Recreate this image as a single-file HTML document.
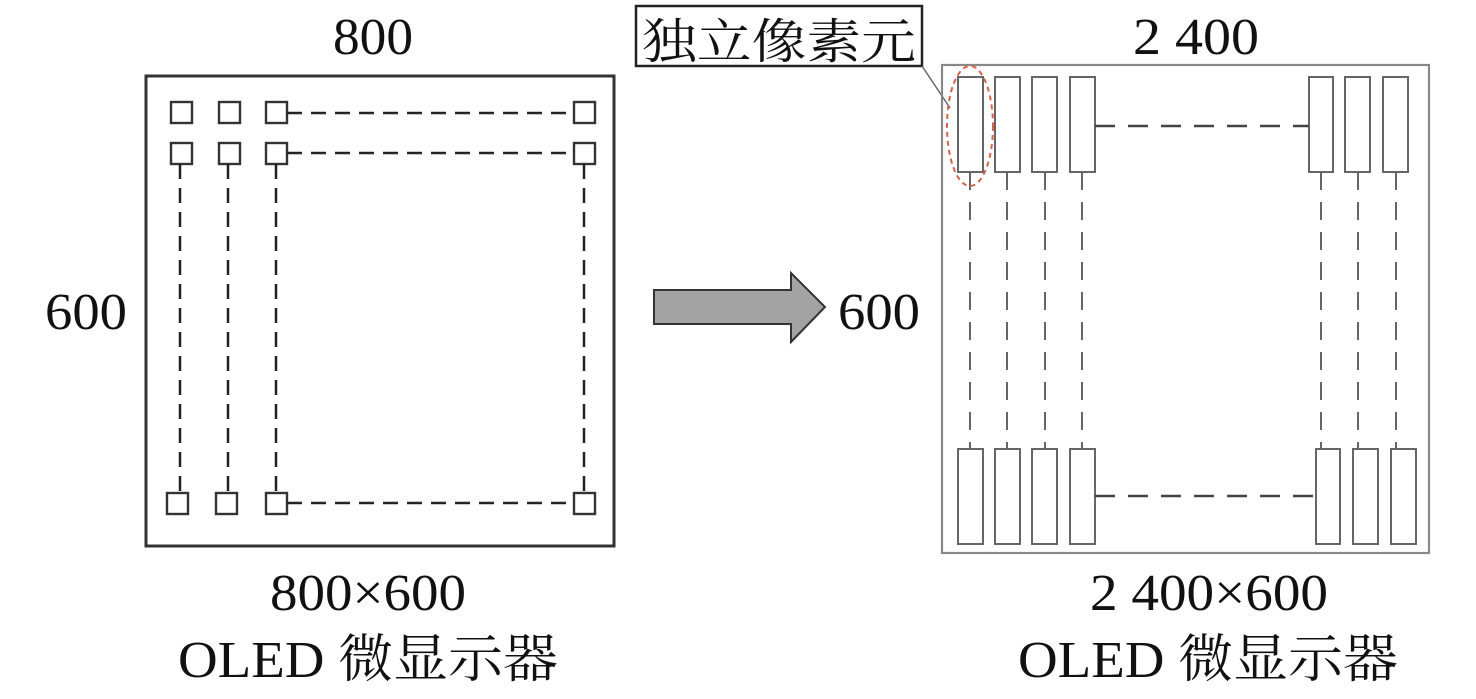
<!DOCTYPE html>
<html><head><meta charset="utf-8"><style>
html,body{margin:0;padding:0;background:#fff;}
svg{display:block;}
text{font-family:"Liberation Serif","Noto Serif CJK SC",serif;fill:#111;}
</style></head><body>
<svg width="1476" height="699" viewBox="0 0 1476 699" xmlns="http://www.w3.org/2000/svg">
<!-- Left panel -->
<text x="333" y="54" font-size="52" textLength="80" lengthAdjust="spacingAndGlyphs">800</text>
<text x="45" y="329" font-size="52" textLength="82" lengthAdjust="spacingAndGlyphs">600</text>
<rect x="146" y="76" width="468" height="470" fill="none" stroke="#333" stroke-width="3"/>
<g fill="none" stroke="#333" stroke-width="2.4">
<rect x="171" y="102" width="21" height="21"/><rect x="219" y="102" width="21" height="21"/><rect x="266" y="102" width="21" height="21"/><rect x="574" y="102" width="21" height="21"/>
<rect x="171" y="143" width="21" height="21"/><rect x="219" y="143" width="21" height="21"/><rect x="266" y="143" width="21" height="21"/><rect x="574" y="143" width="21" height="21"/>
<rect x="167" y="493" width="21" height="21"/><rect x="216" y="493" width="21" height="21"/><rect x="266" y="493" width="21" height="21"/><rect x="574" y="493" width="21" height="21"/>
</g>
<g stroke="#222" stroke-width="2.5" stroke-dasharray="15 9" fill="none">
<line x1="287" y1="113" x2="574" y2="113"/>
<line x1="287" y1="153" x2="574" y2="153"/>
<line x1="287" y1="503" x2="574" y2="503"/>
<line x1="180" y1="164" x2="180" y2="493"/>
<line x1="228" y1="164" x2="228" y2="493"/>
<line x1="276" y1="164" x2="276" y2="493"/>
<line x1="584" y1="164" x2="584" y2="493"/>
</g>
<text x="270" y="610" font-size="52" textLength="196" lengthAdjust="spacingAndGlyphs">800×600</text>
<text x="178" y="677" font-size="52" textLength="380" lengthAdjust="spacingAndGlyphs">OLED 微显示器</text>

<!-- Arrow -->
<polygon points="654,290 791,290 791,273 825,307 791,342 791,324 654,324" fill="#a3a3a3" stroke="#333" stroke-width="2"/>

<!-- Right panel -->
<text x="838" y="329" font-size="52" textLength="82" lengthAdjust="spacingAndGlyphs">600</text>
<text x="1133" y="54" font-size="52" textLength="126" lengthAdjust="spacingAndGlyphs">2 400</text>
<rect x="636" y="6" width="286" height="60" fill="#fff" stroke="#222" stroke-width="2.5"/>
<text x="642" y="58" font-size="48" textLength="274" lengthAdjust="spacingAndGlyphs">独立像素元</text>
<line x1="922" y1="66" x2="950" y2="108" stroke="#666" stroke-width="1.5"/>
<rect x="942" y="65" width="487" height="488" fill="none" stroke="#888" stroke-width="2.2"/>
<g fill="none" stroke="#666" stroke-width="2">
<rect x="958" y="77" width="25" height="95"/><rect x="995" y="77" width="25" height="95"/><rect x="1032" y="77" width="25" height="95"/><rect x="1070" y="77" width="25" height="95"/>
<rect x="1309" y="77" width="24" height="95"/><rect x="1345" y="77" width="25" height="95"/><rect x="1383" y="77" width="25" height="95"/>
<rect x="958" y="449" width="25" height="95"/><rect x="995" y="449" width="25" height="95"/><rect x="1032" y="449" width="25" height="95"/><rect x="1070" y="449" width="25" height="95"/>
<rect x="1316" y="449" width="24" height="95"/><rect x="1353" y="449" width="25" height="95"/><rect x="1391" y="449" width="25" height="95"/>
</g>
<g stroke="#444" stroke-width="2.5" stroke-dasharray="20 13" fill="none">
<line x1="1095" y1="126" x2="1309" y2="126"/>
<line x1="1095" y1="496" x2="1316" y2="496"/>
</g>
<g stroke="#666" stroke-width="2" stroke-dasharray="18 12" fill="none">
<line x1="970" y1="172" x2="970" y2="449"/>
<line x1="1007" y1="172" x2="1007" y2="449"/>
<line x1="1045" y1="172" x2="1045" y2="449"/>
<line x1="1082" y1="172" x2="1082" y2="449"/>
<line x1="1321" y1="172" x2="1321" y2="449"/>
<line x1="1358" y1="172" x2="1358" y2="449"/>
<line x1="1396" y1="172" x2="1396" y2="449"/>
</g>
<ellipse cx="970" cy="126" rx="23" ry="60" fill="none" stroke="#d9614a" stroke-width="2" stroke-dasharray="5 4"/>
<text x="1090" y="610" font-size="52" textLength="238" lengthAdjust="spacingAndGlyphs">2 400×600</text>
<text x="1018" y="677" font-size="52" textLength="380" lengthAdjust="spacingAndGlyphs">OLED 微显示器</text>
</svg>
</body></html>
